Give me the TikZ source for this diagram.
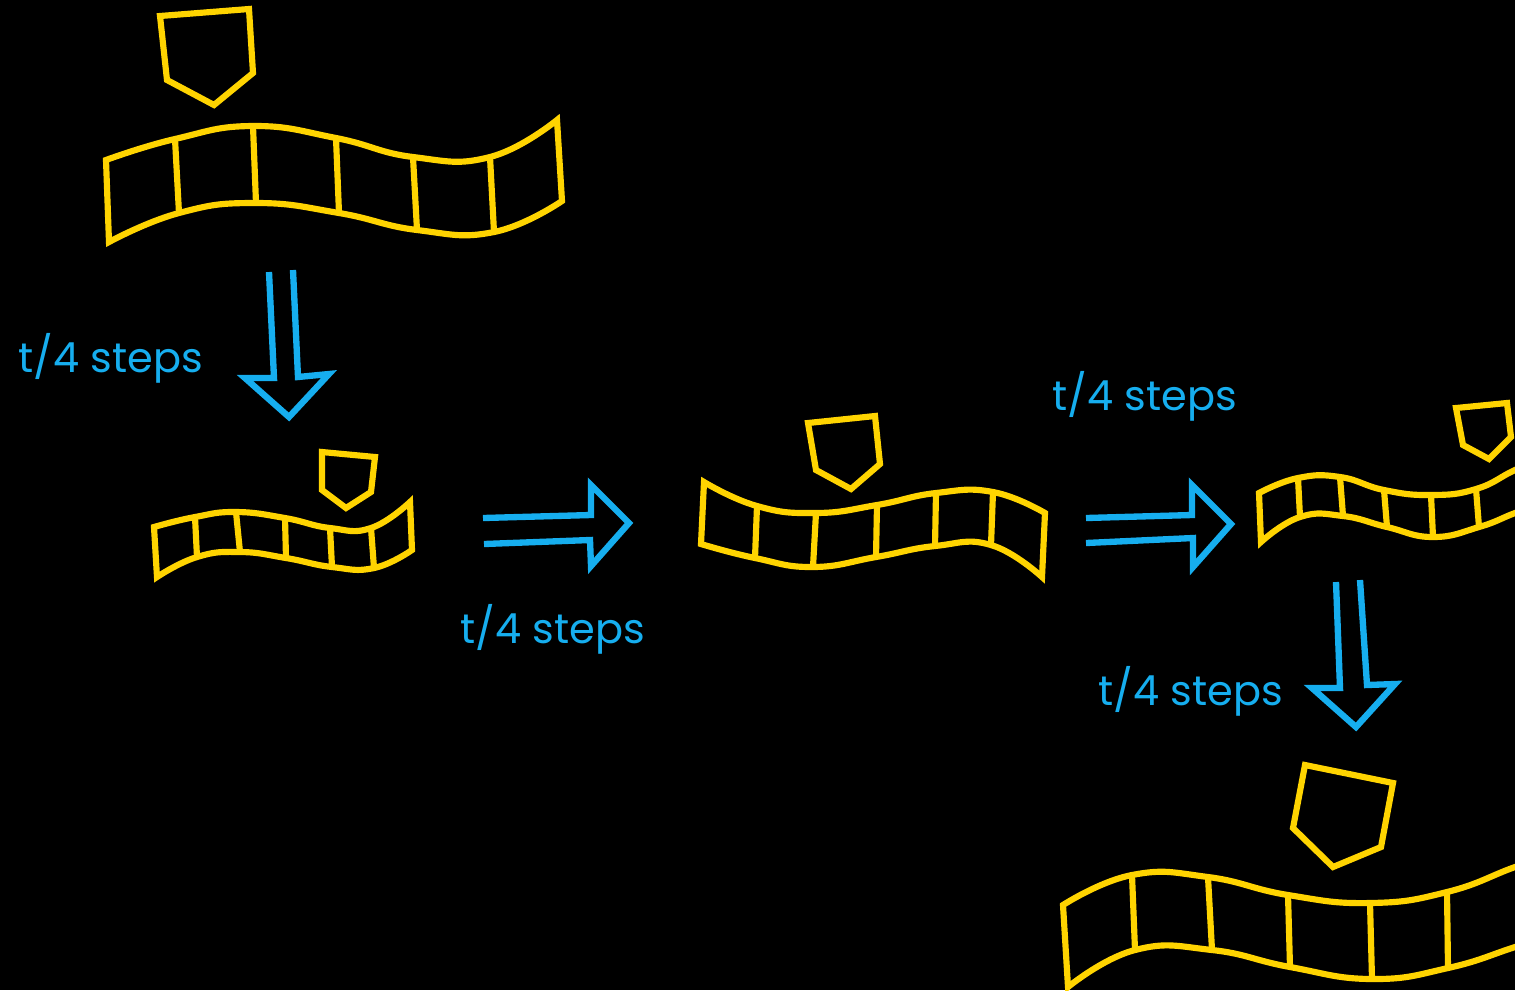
\documentclass[tikz,border=0pt]{standalone}
\usepackage{fontspec}
\setmainfont{Poppins}

\definecolor{tapeyellow}{RGB}{255,212,0}
\definecolor{stepblue}{RGB}{22,174,239}

\begin{document}
\begin{tikzpicture}[
    x=0.01cm, y=-0.01cm,
    tape/.style={
        draw=tapeyellow,
        line width=1.75pt,
        line join=miter
    },
    headbox/.style={tape},
    shiftarrow/.style={
        draw=stepblue,
        line width=1.8pt,
        line join=miter
    },
    steplabel/.style={
        text=stepblue,
        font=\fontsize{11.8}{14}\selectfont,
        anchor=base west,
        inner sep=0pt
    }
]

% ---- Canvas ----
\fill[black] (0,0) rectangle (1515,990);
\clip (0,0) rectangle (1515,990);

% ---- Tape 1 (start) ----
\draw[headbox] (160,16) -- (249,9) -- (253,73) -- (214,105) -- (167,80) -- cycle;
\draw[tape] plot[smooth, tension=0.8] coordinates {(106,160) (175,139) (253,126) (336,138) (413,157) (490,157) (557,120)}
    -- plot[smooth, tension=0.8] coordinates {(562,201) (494,232) (417,230) (339,213) (256,203) (179,213) (109,242)} -- cycle;
\foreach \xt/\yt/\xb/\yb in {175/139/179/213, 253/126/256/203, 336/138/339/213, 413/157/417/230, 490/157/494/232}
    \draw[tape] (\xt,\yt) -- (\xb,\yb);

% ---- Tape 2 (shrunk) ----
\draw[headbox] (322,452) -- (375,457) -- (371,492) -- (346,508) -- (322,490) -- cycle;
\draw[tape] plot[smooth, tension=0.8] coordinates {(154,527) (195,517) (236,512) (285,518) (330,528) (371,528) (410,502)}
    -- plot[smooth, tension=0.8] coordinates {(412,550) (374,568) (332,567) (286,558) (240,552) (197,557) (157,577)} -- cycle;
\foreach \xt/\yt/\xb/\yb in {195/517/197/557, 236/512/240/552, 285/518/286/558, 330/528/332/567, 371/528/374/568}
    \draw[tape] (\xt,\yt) -- (\xb,\yb);

% ---- Tape 3 ----
\draw[headbox] (808,423) -- (875,416) -- (880,464) -- (851,489) -- (816,470) -- cycle;
\draw[tape] plot[smooth, tension=0.8] coordinates {(704,482) (757,506) (816,513) (877,505) (936,493) (993,492) (1045,513)}
    -- plot[smooth, tension=0.8] coordinates {(1042,577) (991,545) (935,546) (876,557) (813,567) (755,558) (701,544)} -- cycle;
\foreach \xt/\yt/\xb/\yb in {757/506/755/558, 816/513/813/567, 877/505/876/557, 936/493/935/546, 993/492/991/545}
    \draw[tape] (\xt,\yt) -- (\xb,\yb);

% ---- Tape 4 (runs off the right edge) ----
\draw[headbox] (1456,408) -- (1507,403) -- (1511,437) -- (1489,459) -- (1463,445) -- cycle;
\draw[tape] plot[smooth, tension=0.8] coordinates {(1259,493) (1298,478) (1340,477) (1384,490) (1431,495) (1476,489) (1515,470) (1550,455)}
    -- plot[smooth, tension=0.8] coordinates {(1550,500) (1515,513) (1479,527) (1433,537) (1387,527) (1343,516) (1300,517) (1261,542)} -- cycle;
\foreach \xt/\yt/\xb/\yb in {1298/478/1300/517, 1340/477/1343/516, 1384/490/1387/527, 1431/495/1433/537, 1476/489/1479/527}
    \draw[tape] (\xt,\yt) -- (\xb,\yb);

% ---- Tape 5 (final) ----
\draw[headbox] (1305,765) -- (1393,783) -- (1381,847) -- (1333,867) -- (1293,828) -- cycle;
\draw[tape] plot[smooth, tension=0.8] coordinates {(1063,905) (1132,875) (1208,877) (1288,895) (1370,903) (1447,892) (1515,867) (1560,852)}
    -- plot[smooth, tension=0.8] coordinates {(1560,932) (1515,947) (1448,968) (1372,979) (1290,967) (1212,950) (1135,950) (1068,987)} -- cycle;
\foreach \xt/\yt/\xb/\yb in {1132/875/1135/950, 1208/877/1212/950, 1288/895/1290/967, 1370/903/1372/979, 1447/892/1448/968}
    \draw[tape] (\xt,\yt) -- (\xb,\yb);

% ---- Step arrows ----
\draw[shiftarrow] (269,272) -- (274,378) -- (245,378) -- (289,417) -- (329,374) -- (298,377) -- (293,270);
\draw[shiftarrow] (483,518) -- (591,515) -- (591,485) -- (629,523) -- (591,566) -- (590,540) -- (484,544);
\draw[shiftarrow] (1086,518) -- (1192,515) -- (1192,485) -- (1231,524) -- (1193,567) -- (1193,538) -- (1086,543);
\draw[shiftarrow] (1336,582) -- (1340,688) -- (1312,688) -- (1356,727) -- (1395,684) -- (1367,685) -- (1360,580);

% ---- Labels ----
\node[steplabel] (down1)  at (18,372)   {t/4 steps};
\node[steplabel] (right1) at (460,643)  {t/4 steps};
\node[steplabel] (right2) at (1052,410) {t/4 steps};
\node[steplabel] (down2)  at (1098,705) {t/4 steps};

\end{tikzpicture}
\end{document}
